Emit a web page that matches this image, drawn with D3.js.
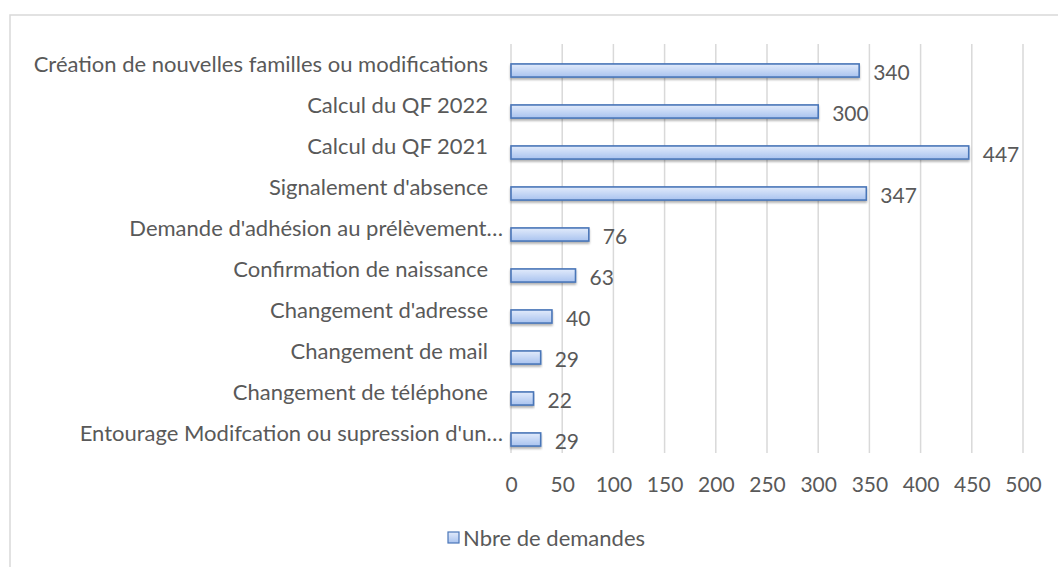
<!DOCTYPE html>
<html>
<head>
<meta charset="utf-8">
<script src="https://cdn.jsdelivr.net/npm/d3@7"></script>
<style>
  body { margin: 0; background: #fff; }
  svg text { font-family: "Lato", "Open Sans", sans-serif; fill: #595959; }
</style>
</head>
<body>
<div id="chart"></div>
<script>
const categories = [
    "Création de nouvelles familles ou modifications",
    "Calcul du QF 2022",
    "Calcul du QF 2021",
    "Signalement d'absence",
    "Demande d'adhésion au prélèvement…",
    "Confirmation de naissance",
    "Changement d'adresse",
    "Changement de mail",
    "Changement de téléphone",
    "Entourage Modifcation ou supression d'un…"
];
const values = [340, 300, 447, 347, 76, 63, 40, 29, 22, 29];
const ticks = [0, 50, 100, 150, 200, 250, 300, 350, 400, 450, 500];
const seriesName = "Nbre de demandes";

const datos = categories.map((c, i) => ({ cat: c, val: values[i] }));
const fontSize = "21px";

const svg = d3.select("#chart")
    .append("svg")
    .attr("width", 1058)
    .attr("height", 567);

// Dégradé des barres
const defs = svg.append("defs");
const grad = defs.append("linearGradient")
    .attr("id", "barGrad")
    .attr("x1", 0).attr("y1", 0).attr("x2", 0).attr("y2", 1);
grad.append("stop").attr("offset", "0%").attr("stop-color", "#e2ebfb");
grad.append("stop").attr("offset", "100%").attr("stop-color", "#a9c3ef");
const shadow = defs.append("filter").attr("id", "shadow")
    .attr("x", "-5%").attr("y", "-20%").attr("width", "110%").attr("height", "160%");
shadow.append("feDropShadow")
    .attr("dx", 0).attr("dy", 2).attr("stdDeviation", 1.2)
    .attr("flood-color", "#000").attr("flood-opacity", 0.3);

// Cadre du graphique
svg.append("rect")
    .attr("x", 10).attr("y", 15)
    .attr("width", 1100).attr("height", 600)
    .attr("fill", "none")
    .attr("stroke", "#d9d9d9")
    .attr("stroke-width", 1.5);

const x = d3.scaleLinear()
    .domain([0, 500])
    .range([511, 1023]);

const y = d3.scaleBand()
    .domain(categories)
    .range([50, 460])
    .paddingInner(0.68)
    .paddingOuter(0.34);

const gridTop = 44, gridBottom = 453;

// Quadrillage vertical
svg.append("g")
    .selectAll("line")
    .data(ticks)
    .enter().append("line")
    .attr("x1", d => x(d)).attr("x2", d => x(d))
    .attr("y1", gridTop).attr("y2", gridBottom)
    .attr("stroke", "#d9d9d9")
    .attr("stroke-width", 1.5);

// Axe X (étiquettes)
const axis = svg.append("g")
    .attr("transform", `translate(0, ${gridBottom})`)
    .call(d3.axisBottom(x).tickValues(ticks).tickSize(0).tickPadding(24));
axis.select(".domain").remove();
axis.selectAll("text")
    .style("font-family", "Lato, 'Open Sans', sans-serif")
    .style("font-size", fontSize)
    .attr("fill", "#595959");

// Barres
svg.selectAll(".bar")
    .data(datos)
    .enter().append("rect")
    .attr("class", "bar")
    .attr("x", x(0))
    .attr("y", d => y(d.cat))
    .attr("width", d => x(d.val) - x(0))
    .attr("height", y.bandwidth())
    .attr("fill", "url(#barGrad)")
    .attr("stroke", "#4a76b8")
    .attr("stroke-width", 1.6)
    .attr("filter", "url(#shadow)");

// Étiquettes de catégories
svg.selectAll(".cat")
    .data(datos)
    .enter().append("text")
    .attr("class", "cat")
    .attr("x", d => d.cat.endsWith("…") ? 503 : 488)
    .attr("y", d => y(d.cat) + y.bandwidth() / 2 - 6)
    .attr("dy", "0.35em")
    .attr("text-anchor", "end")
    .style("font-size", "22px")
    .text(d => d.cat);

// Valeurs
svg.selectAll(".val")
    .data(datos)
    .enter().append("text")
    .attr("class", "val")
    .attr("x", d => x(d.val) + 14)
    .attr("y", d => y(d.cat) + y.bandwidth() / 2 + 2)
    .attr("dy", "0.35em")
    .style("font-size", fontSize)
    .text(d => d.val);

// Légende
const leg = svg.append("g").attr("transform", "translate(448, 532)");
leg.append("rect")
    .attr("width", 11).attr("height", 11)
    .attr("fill", "url(#barGrad)")
    .attr("stroke", "#4a76b8")
    .attr("stroke-width", 1.2);
leg.append("text")
    .attr("x", 15)
    .attr("y", 6)
    .attr("dy", "0.35em")
    .style("font-size", "22px")
    .text(seriesName);
</script>
</body>
</html>
